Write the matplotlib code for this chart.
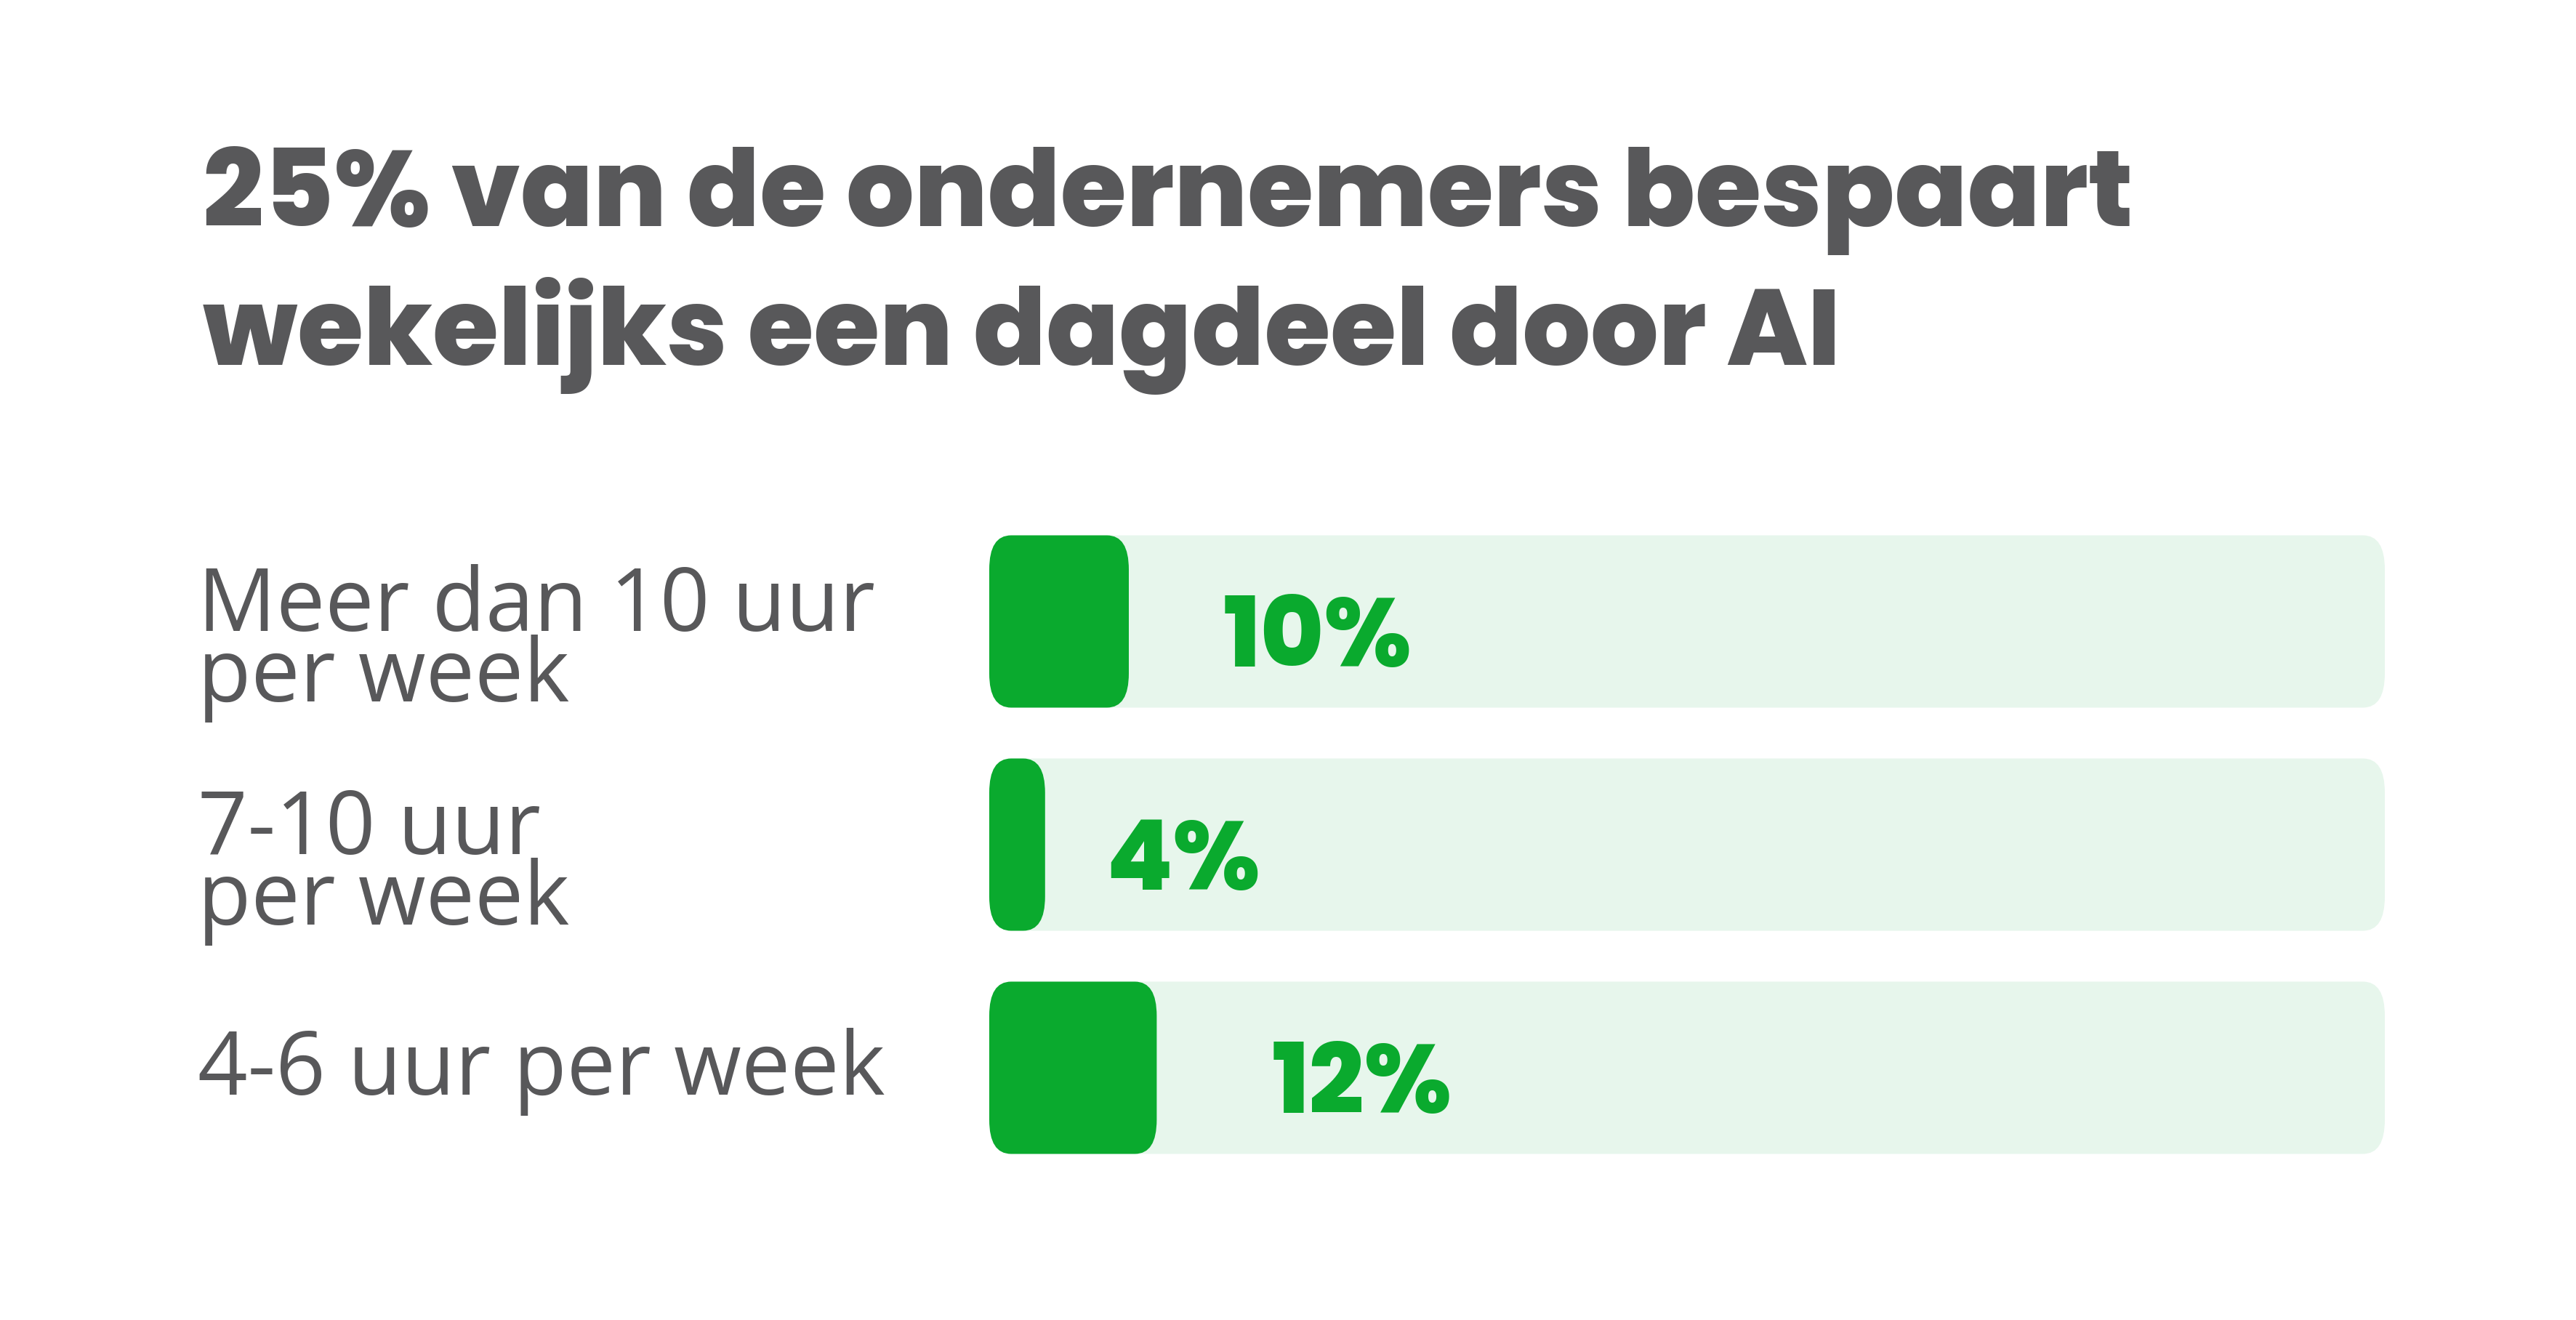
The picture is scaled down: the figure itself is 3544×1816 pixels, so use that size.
import matplotlib
matplotlib.use("Agg")
import matplotlib.pyplot as plt
from matplotlib.patches import FancyBboxPatch
from matplotlib.transforms import blended_transform_factory

# data
title = "25% van de ondernemers bespaart\nwekelijks een dagdeel door AI"
categories = ["Meer dan 10 uur\nper week", "7-10 uur\nper week", "4-6 uur per week"]
values = [10, 4, 12]
value_labels = ["10%", "4%", "12%"]

GREEN = "#0aaa2e"
TRACK = "#e7f6ec"
GRAY = "#58585a"
HEAVY = dict(fontfamily="Poppins", fontweight="extra bold")

W, H = 3544, 1816
fig = plt.figure(figsize=(W / 100, H / 100), dpi=100)
fig.patch.set_facecolor("white")

# bar area in pixels of the final picture, x axis in percent
left, right = 1361, 3281
row = 307
top = 855 - row / 2
bottom = 1469 + row / 2
ax = fig.add_axes([left / W, 1 - bottom / H, (right - left) / W, (bottom - top) / H])
ax.set_xlim(0, 100)
ax.set_ylim(len(values) - 0.5, -0.5)
ax.axis("off")

bar_h = 237 / row
rx = 30 / (right - left) * 100
ry = 47 / row
for i, v in enumerate(values):
    for width, color in [(100, TRACK), (v, GREEN)]:
        ax.add_patch(FancyBboxPatch((0, i - bar_h / 2), width, bar_h,
                                    boxstyle=f"round,pad=0,rounding_size={rx}",
                                    mutation_aspect=ry / rx, fc=color, ec="none"))
    ax.text(7.5 + 1.6 * v, i + 62 / row, value_labels[i], ha="center", va="baseline",
            fontsize=96, color=GREEN, **HEAVY)

# category labels, left of the bars (baseline of the last line)
trans = blended_transform_factory(fig.transFigure, ax.transData)
for i, cat in enumerate(categories):
    dy = 110 / row if "\n" in cat else 37 / row
    ax.text(272 / W, i + dy, cat, transform=trans, ha="left", va="baseline",
            fontfamily="Open Sans", fontsize=86.4, linespacing=0.74, color=GRAY)

fig.text(279 / W, 1 - 502 / H, title, ha="left", va="baseline",
         fontsize=106, linespacing=1.25, color=GRAY, **HEAVY)

fig.savefig("out.png", dpi=100, facecolor="white")
